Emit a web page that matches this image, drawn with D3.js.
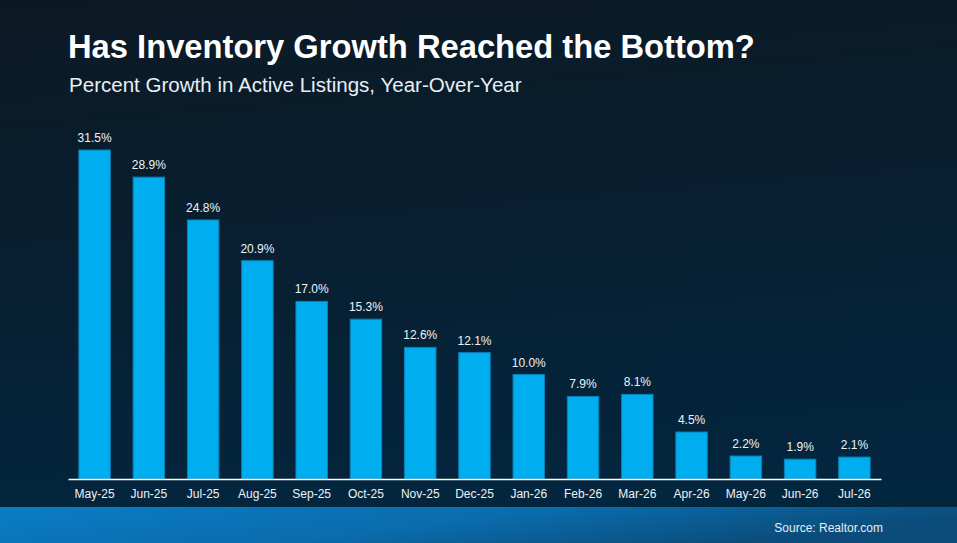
<!DOCTYPE html>
<html>
<head>
<meta charset="utf-8">
<script src="https://cdn.jsdelivr.net/npm/d3@7"></script>
<style>
  html, body { margin: 0; padding: 0; background: #071c2c; }
  svg { display: block; font-family: "Liberation Sans", Arial, sans-serif; }
</style>
</head>
<body>
<div id="chart"></div>
<script>
const months = ["May-25", "Jun-25", "Jul-25", "Aug-25", "Sep-25", "Oct-25", "Nov-25", "Dec-25",
  "Jan-26", "Feb-26", "Mar-26", "Apr-26", "May-26", "Jun-26", "Jul-26"];
const growth = [31.5, 28.9, 24.8, 20.9, 17.0, 15.3, 12.6, 12.1, 10.0, 7.9, 8.1, 4.5, 2.2, 1.9, 2.1];

const titleText = "Has Inventory Growth Reached the Bottom?";
const subtitleText = "Percent Growth in Active Listings, Year-Over-Year";
const sourceText = "Source: Realtor.com";

const width = 957;
const height = 543;
const margin = { top: 150, right: 76, bottom: 64, left: 68 };

const svg = d3.select("#chart").append("svg")
  .attr("width", width)
  .attr("height", height);

// background gradients
const defs = svg.append("defs");
const bg = defs.append("linearGradient")
  .attr("id", "bg").attr("x1", 0).attr("y1", 0).attr("x2", 0.15).attr("y2", 1);
bg.append("stop").attr("offset", "0%").attr("stop-color", "#0c1924");
bg.append("stop").attr("offset", "100%").attr("stop-color", "#03263f");

const band = defs.append("linearGradient")
  .attr("id", "band").attr("x1", 0).attr("y1", 0).attr("x2", 1).attr("y2", 0.3);
band.append("stop").attr("offset", "0%").attr("stop-color", "#0a7dc6");
band.append("stop").attr("offset", "55%").attr("stop-color", "#0a6cac");
band.append("stop").attr("offset", "100%").attr("stop-color", "#0b4c7a");

svg.append("rect").attr("width", width).attr("height", height).attr("fill", "url(#bg)");
svg.append("rect").attr("x", 0).attr("y", 507).attr("width", width).attr("height", height - 507)
  .attr("fill", "url(#band)");

// title + subtitle, sized to fit their measured widths
const title = svg.append("text")
  .attr("x", 68).attr("y", 58)
  .attr("fill", "#ffffff")
  .attr("font-weight", "bold")
  .attr("font-size", 30)
  .text(titleText);
title.attr("font-size", 30 * 687 / title.node().getComputedTextLength());

const subtitle = svg.append("text")
  .attr("x", 69).attr("y", 92)
  .attr("fill", "#e8eef3")
  .attr("font-size", 18)
  .text(subtitleText);
subtitle.attr("font-size", 18 * 453 / subtitle.node().getComputedTextLength());

// scales
const x = d3.scaleBand()
  .domain(months)
  .range([margin.left, width - margin.right])
  .paddingInner(0.42)
  .paddingOuter(0.2);

const y = d3.scaleLinear()
  .domain([0, d3.max(growth)])
  .range([height - margin.bottom, margin.top]);

const data = months.map((m, i) => ({ month: m, value: growth[i] }));

// bars
svg.append("g").selectAll("rect")
  .data(data)
  .enter().append("rect")
  .attr("x", d => x(d.month))
  .attr("y", d => y(d.value))
  .attr("width", x.bandwidth())
  .attr("height", d => y(0) - y(d.value))
  .attr("fill", "#00aeef")
  .attr("stroke", "#0a80b6")
  .attr("stroke-width", 1);

// value labels
svg.append("g").selectAll("text")
  .data(data)
  .enter().append("text")
  .attr("x", d => x(d.month) + x.bandwidth() / 2)
  .attr("y", d => y(d.value) - 8)
  .attr("text-anchor", "middle")
  .attr("fill", "#f0f3f6")
  .attr("font-size", 12)
  .text(d => d.value.toFixed(1) + "%");

// x axis
const xAxis = svg.append("g")
  .attr("transform", `translate(0,${y(0)})`)
  .call(d3.axisBottom(x).tickSize(0).tickPadding(10).tickSizeOuter(0));
xAxis.select(".domain").attr("stroke", "#ffffff").attr("stroke-width", 1.5);
xAxis.selectAll("text")
  .attr("fill", "#eef2f5")
  .attr("font-size", 12)
  .attr("font-family", "Liberation Sans, Arial, sans-serif");

// source
svg.append("text")
  .attr("x", 883).attr("y", 532)
  .attr("text-anchor", "end")
  .attr("fill", "#e6eef5")
  .attr("font-size", 12)
  .text(sourceText);
</script>
</body>
</html>
